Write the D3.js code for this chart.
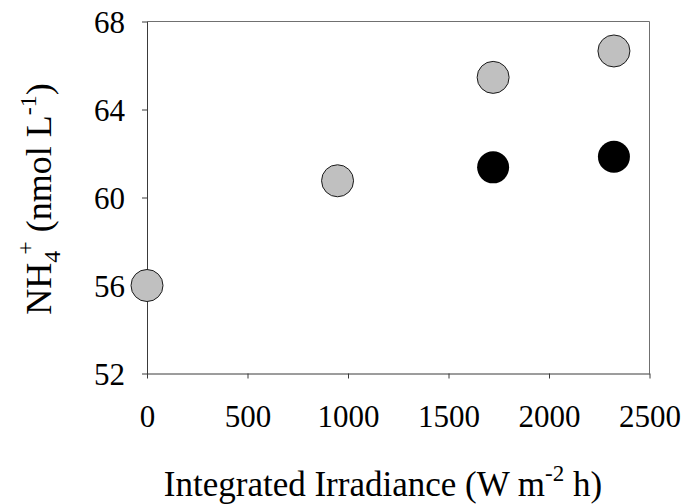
<!DOCTYPE html>
<html>
<head>
<meta charset="utf-8">
<script src="https://cdn.jsdelivr.net/npm/d3@7"></script>
<style>
  html, body { margin: 0; padding: 0; background: #fff; }
  text { font-family: "Liberation Serif", "Times New Roman", serif; fill: #000; }
</style>
</head>
<body>
<svg id="chart" width="687" height="504"></svg>
<script>
// Integrated irradiance (W m-2 h) and NH4+ concentration (nmol L-1)
const grayIrradiance = [0, 948, 1722, 2323];
const grayNH4 = [56.0, 60.76, 65.46, 66.66];
const blackIrradiance = [1722, 2323];
const blackNH4 = [61.37, 61.85];
const xTicks = [0, 500, 1000, 1500, 2000, 2500];
const yTicks = [52, 56, 60, 64, 68];

const svg = d3.select("#chart");
const plotLeft = 147, plotRight = 649.5, plotTop = 21.5, plotBottom = 373.5;
const serif = "Liberation Serif";

const x = d3.scaleLinear().domain([0, 2500]).range([plotLeft, plotRight]);
const y = d3.scaleLinear().domain([52, 68]).range([plotBottom, plotTop]);

const axisColor = "#3a3a3a";

// frame top and right
svg.append("line").attr("x1", plotLeft).attr("x2", plotRight).attr("y1", plotTop).attr("y2", plotTop)
  .attr("stroke", "#707070").attr("stroke-width", 1);
svg.append("line").attr("x1", plotRight).attr("x2", plotRight).attr("y1", plotTop).attr("y2", plotBottom)
  .attr("stroke", "#707070").attr("stroke-width", 1);

const xAxis = svg.append("g").attr("transform", `translate(0,${plotBottom})`)
  .call(d3.axisBottom(x).tickValues(xTicks).tickSize(5).tickSizeOuter(0).tickFormat(d3.format("d")));
const yAxis = svg.append("g").attr("transform", `translate(${plotLeft},0)`)
  .call(d3.axisLeft(y).tickValues(yTicks).tickSize(5).tickSizeOuter(0).tickFormat(d3.format("d")));

[xAxis, yAxis].forEach(g => {
  g.attr("font-family", serif).attr("font-size", 31);
  g.select(".domain").attr("stroke", axisColor);
  g.selectAll(".tick line").attr("stroke", axisColor);
  g.selectAll("text").attr("fill", "#000");
});
xAxis.selectAll("text").attr("y", 53.5).attr("dy", 0);
yAxis.selectAll("text").attr("x", -22).attr("dy", "0.36em");

// points
svg.append("g").selectAll("circle").data(grayIrradiance.map((v, i) => [v, grayNH4[i]]))
  .join("circle")
  .attr("cx", d => x(d[0])).attr("cy", d => y(d[1])).attr("r", 16)
  .attr("fill", "#c0c0c0").attr("stroke", "#1a1a1a").attr("stroke-width", 1);
svg.append("g").selectAll("circle").data(blackIrradiance.map((v, i) => [v, blackNH4[i]]))
  .join("circle")
  .attr("cx", d => x(d[0])).attr("cy", d => y(d[1])).attr("r", 16)
  .attr("fill", "#000");

// x axis title
const xt = svg.append("text").attr("x", 383).attr("y", 496)
  .attr("text-anchor", "middle").attr("font-family", serif).attr("font-size", 35);
xt.append("tspan").text("Integrated Irradiance (W m");
xt.append("tspan").attr("dy", -15).attr("font-size", 23).text("-2");
xt.append("tspan").attr("dy", 15).text(" h)");

// y axis title
const yt = svg.append("text").attr("transform", "translate(51,199) rotate(-90)")
  .attr("text-anchor", "middle").attr("font-family", serif).attr("font-size", 36);
yt.append("tspan").text("NH");
yt.append("tspan").attr("dy", 9).attr("font-size", 24).text("4");
yt.append("tspan").attr("dy", -27).attr("dx", -4).attr("font-size", 24).text("+");
yt.append("tspan").attr("dy", 18).text(" (nmol L");
yt.append("tspan").attr("dy", -15).attr("font-size", 24).text("-1");
yt.append("tspan").attr("dy", 15).text(")");
</script>
</body>
</html>
